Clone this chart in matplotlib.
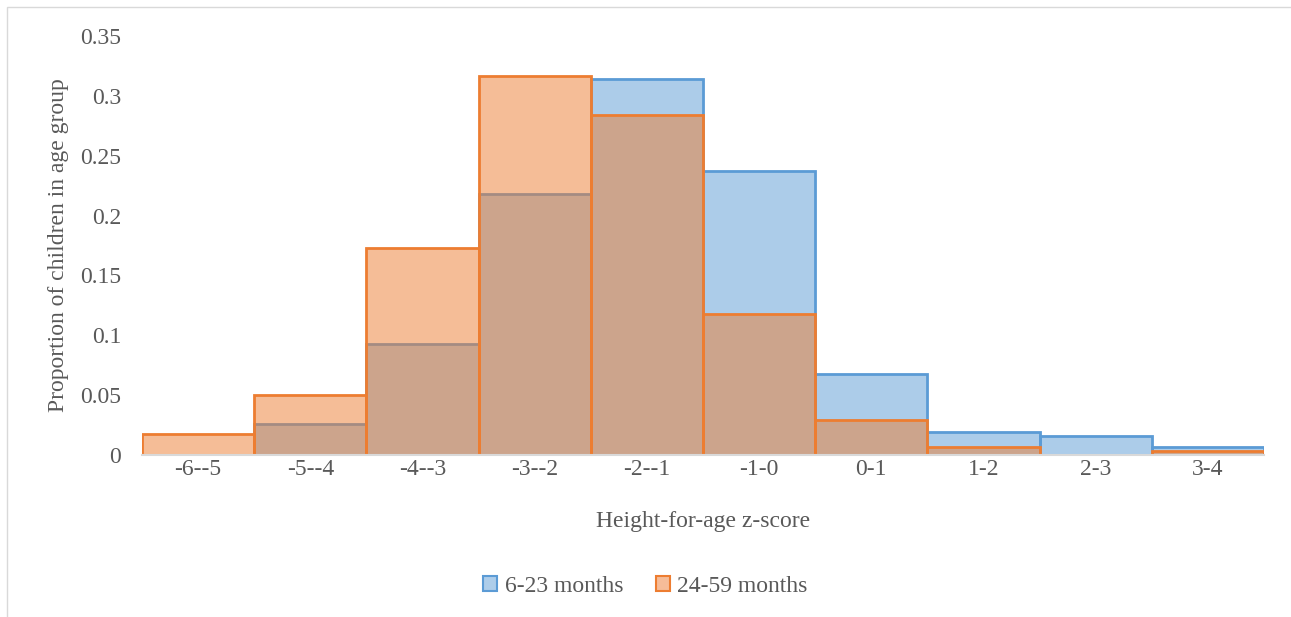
import numpy as np
import matplotlib.pyplot as plt
from matplotlib.patches import Rectangle, Patch

# z-score bins and proportions
bins = ["-6--5", "-5--4", "-4--3", "-3--2", "-2--1", "-1-0", "0-1", "1-2", "2-3", "3-4"]
young = [0.0, 0.026, 0.093, 0.218, 0.314, 0.2375, 0.0675, 0.019, 0.016, 0.0065]
older = [0.0175, 0.050, 0.1725, 0.317, 0.284, 0.1175, 0.029, 0.0065, 0.0, 0.0035]

plt.rcParams['font.family'] = ['Liberation Serif', 'DejaVu Serif']
txt = "#595959"
fs = 17

fig = plt.figure(figsize=(12.91, 6.17), dpi=100)
ax = fig.add_axes([142 / 1291, 1 - 455 / 617, (1264 - 142) / 1291, (455 - 36) / 617])

x = np.arange(len(bins))
ax.bar(x, young, width=1.0, color="#5B9BD5", alpha=0.5, edgecolor="none", zorder=2)
ax.bar(x, young, width=1.0, facecolor="none", edgecolor="#5B9BD5", linewidth=2, zorder=3)
ax.bar(x, older, width=1.0, color="#ED7D31", alpha=0.5, edgecolor="none", zorder=4)
ax.bar(x, older, width=1.0, facecolor="none", edgecolor="#ED7D31", linewidth=2, zorder=5)

ax.set_xlim(-0.5, len(bins) - 0.5)
ax.set_ylim(0, 0.35)
ax.set_yticks(np.arange(0, 0.351, 0.05))
ax.set_yticklabels(["0", "0.05", "0.1", "0.15", "0.2", "0.25", "0.3", "0.35"])
ax.set_xticks(x)
ax.set_xticklabels(bins)
ax.tick_params(length=0, labelsize=fs, colors=txt)
ax.tick_params(axis='y', pad=15)
ax.tick_params(axis='x', pad=3)

for s in ["top", "right", "left"]:
    ax.spines[s].set_visible(False)
ax.spines["bottom"].set_color("#D9D9D9")
ax.spines["bottom"].set_linewidth(1.5)
ax.spines["bottom"].set_zorder(6)

ax.set_xlabel("Height-for-age z-score", fontsize=fs, color=txt, labelpad=22)
ax.set_ylabel("Proportion of children in age group", fontsize=fs, color=txt, labelpad=8)

handles = [Patch(facecolor="#ADCDEA", edgecolor="#5B9BD5", linewidth=1.5, label="6-23 months"),
           Patch(facecolor="#F6BC98", edgecolor="#ED7D31", linewidth=1.5, label="24-59 months")]
fig.legend(handles=handles, loc="center", bbox_to_anchor=(0.5, 1 - 586 / 617), ncol=2,
           frameon=False, fontsize=fs, labelcolor=txt, handlelength=0.6, handleheight=0.6,
           handletextpad=0.3, columnspacing=1.4)

# outer chart frame
fig.patches.append(Rectangle((7 / 1291, -0.1), 1.2, 1 - 7 / 617 + 0.1, transform=fig.transFigure,
                             fill=False, edgecolor="#D9D9D9", linewidth=1))

fig.savefig("out.png", dpi=100)
